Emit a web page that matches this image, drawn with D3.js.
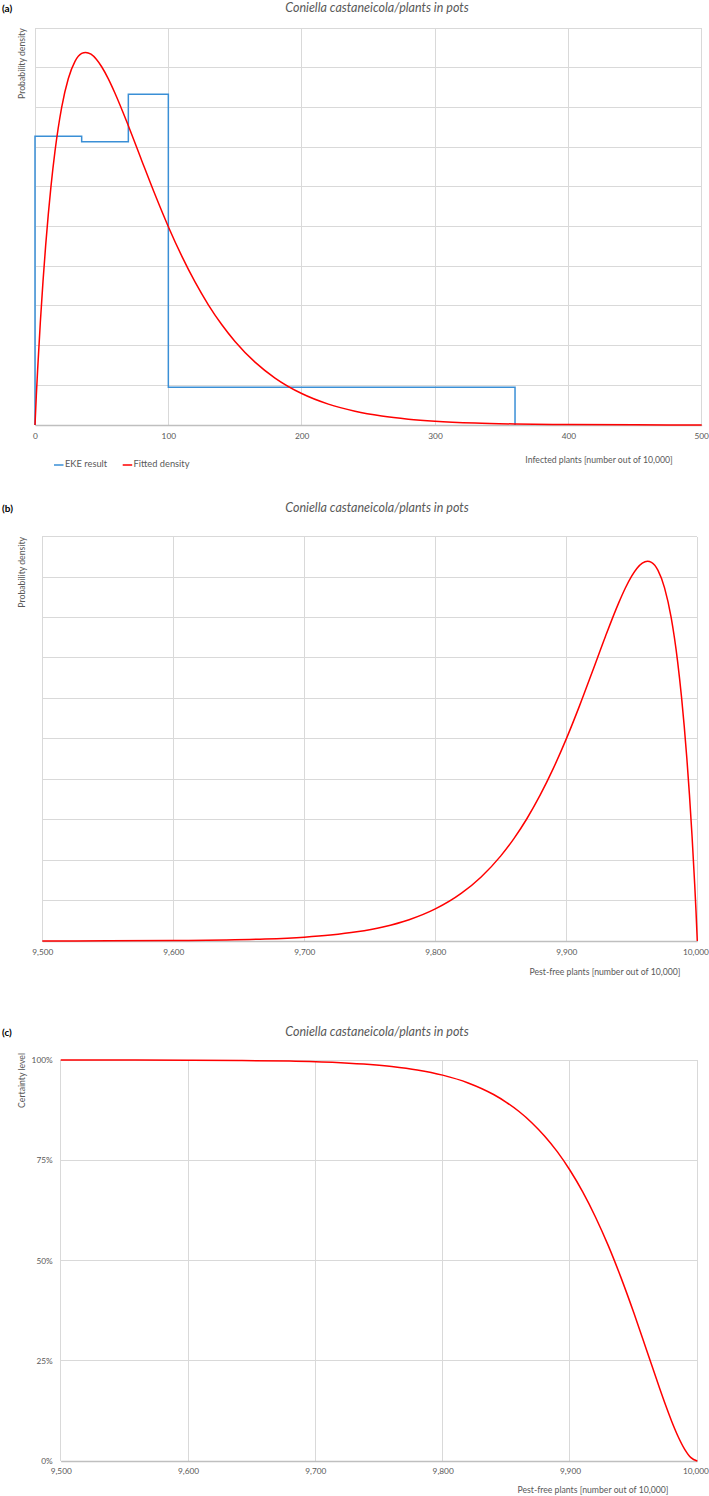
<!DOCTYPE html>
<html>
<head>
<meta charset="utf-8">
<script src="https://cdn.jsdelivr.net/npm/d3@7"></script>
<style>
  html, body { margin: 0; padding: 0; background: #fff; }
  svg { display: block; }
  text { font-family: Lato, "Open Sans", sans-serif; }
</style>
</head>
<body>
<svg id="chart" width="709" height="1496"></svg>
<script>
// ---------------- DATA ----------------
const chartTitle = "Coniella castaneicola/plants in pots";

// Panel (a): infected plants
const infectedTicks = [0, 100, 200, 300, 400, 500];
const infectedBinEdges = [0, 35, 70, 100, 360];
const infectedBinDensity = [0.00728, 0.00714, 0.00834, 0.00095];
const fittedX = [0, 1, 2, 4, 6, 8, 10, 12, 15, 20, 25, 30, 35, 38, 42, 46, 50, 55, 60, 70, 80, 90, 100, 110, 120, 130, 140, 150, 165, 180, 200, 220, 240, 260, 280, 300, 330, 360, 400, 450, 500];
const fittedDensity = [0, 0.000748, 0.001409, 0.002589, 0.003621, 0.004527, 0.005322, 0.006020, 0.006904, 0.008008, 0.008734, 0.009167, 0.009366, 0.009393, 0.009347, 0.009222, 0.009031, 0.008725, 0.008363, 0.007544, 0.006670, 0.005809, 0.004999, 0.004263, 0.003606, 0.003030, 0.002532, 0.002106, 0.001584, 0.001183, 0.000793, 0.000526, 0.000347, 0.000227, 0.000148, 0.0000957, 0.0000494, 0.0000254, 0.0000103, 0.0000033, 0.00000105];

// Panel (b): pest-free plants density
const pestFreeTicks = [9500, 9600, 9700, 9800, 9900, 10000];
const pestFreeX = [9500, 9550, 9600, 9640, 9670, 9700, 9720, 9740, 9760, 9780, 9800, 9820, 9835, 9850, 9860, 9870, 9880, 9890, 9900, 9910, 9920, 9930, 9940, 9945, 9950, 9954, 9958, 9962, 9965, 9970, 9975, 9980, 9985, 9988, 9990, 9992, 9994, 9996, 9998, 9999, 10000];
const pestFreeDensity = [0.00000105, 0.0000033, 0.0000103, 0.0000254, 0.0000494, 0.0000957, 0.000148, 0.000227, 0.000347, 0.000526, 0.000793, 0.001183, 0.001584, 0.002106, 0.002532, 0.003030, 0.003606, 0.004263, 0.004999, 0.005809, 0.006670, 0.007544, 0.008363, 0.008725, 0.009031, 0.009222, 0.009347, 0.009393, 0.009366, 0.009167, 0.008734, 0.008008, 0.006904, 0.006020, 0.005322, 0.004527, 0.003621, 0.002589, 0.001409, 0.000748, 0];

// Panel (c): certainty level
const certaintyTicks = [0, 0.25, 0.5, 0.75, 1];
const certaintyTickLabels = ["0%", "25%", "50%", "75%", "100%"];
const certaintyX = [9500, 9550, 9600, 9640, 9680, 9720, 9760, 9780, 9800, 9820, 9840, 9850, 9860, 9870, 9880, 9890, 9900, 9910, 9920, 9930, 9940, 9950, 9960, 9970, 9975, 9980, 9985, 9990, 9995, 10000];
const certaintyLevel = [1.0, 0.9999, 0.9996, 0.9989, 0.9972, 0.9933, 0.9839, 0.9753, 0.9623, 0.9428, 0.9139, 0.8946, 0.8715, 0.8437, 0.8105, 0.7714, 0.7250, 0.6711, 0.6086, 0.5377, 0.4579, 0.3708, 0.2783, 0.1849, 0.1401, 0.0980, 0.0606, 0.0298, 0.0084, 0];

const legendLabels = ["EKE result", "Fitted density"];

// ---------------- STYLE ----------------
const GRID = "#d9d9d9", AXIS = "#bfbfbf", TXT = "#595959";
const RED = "#ff0000", BLUE = "#3a8fd6";

const svg = d3.select("#chart");
svg.append("rect").attr("width", 709).attr("height", 1496).attr("fill", "#fff");

function drawPanel(o) {
  const g = svg.append("g");
  const x = d3.scaleLinear().domain(o.xDomain).range([o.left, o.right]);
  const y = d3.scaleLinear().domain(o.yDomain).range([o.bottom, o.top]);

  g.append("g").selectAll("line").data(o.yGrid).join("line")
    .attr("x1", o.left).attr("x2", o.right)
    .attr("y1", d => y(d)).attr("y2", d => y(d))
    .attr("stroke", GRID).attr("stroke-width", 1).attr("shape-rendering", "crispEdges");
  g.append("g").selectAll("line").data(o.xTicks).join("line")
    .attr("x1", d => x(d)).attr("x2", d => x(d))
    .attr("y1", o.top).attr("y2", o.bottom)
    .attr("stroke", GRID).attr("stroke-width", 1).attr("shape-rendering", "crispEdges");

  const ax = g.append("g").attr("transform", `translate(0,${o.bottom})`)
    .call(d3.axisBottom(x).tickValues(o.xTicks).tickSize(0).tickSizeOuter(0)
      .tickPadding(o.tickPad).tickFormat(o.xFormat));
  ax.select(".domain").attr("stroke", AXIS).attr("stroke-width", 1.3);
  ax.selectAll("text").attr("fill", TXT).attr("font-size", 8.3);
  // keep the right-most tick label inside the picture
  const lastTick = ax.selectAll(".tick").filter((d, i, n) => i === n.length - 1).select("text");
  const bb = lastTick.node().getBBox();
  const overflow = (x(o.xTicks[o.xTicks.length - 1]) + bb.x + bb.width) - 708.5;
  if (overflow > 0) lastTick.attr("x", -overflow);

  if (o.yTickLabels) {
    const ay = g.append("g").attr("transform", `translate(${o.left},0)`)
      .call(d3.axisLeft(y).tickValues(o.yTicksShown).tickSize(0).tickPadding(8)
        .tickFormat((d, i) => o.yTickLabels[i]));
    ay.select(".domain").remove();
    ay.selectAll("text").attr("fill", TXT).attr("font-size", 8.3);
  }

  g.append("text").attr("x", 2).attr("y", o.labelY).attr("font-size", 10)
    .attr("font-weight", "bold").attr("fill", "#000").attr("dominant-baseline", "middle")
    .text(o.panelLabel);
  g.append("text").attr("x", 377).attr("y", o.labelY).attr("font-size", 12.5)
    .attr("font-style", "italic").attr("fill", TXT).attr("text-anchor", "middle")
    .attr("dominant-baseline", "middle").text(chartTitle);
  g.append("text").attr("transform", `translate(22.7,${o.yTitleTop}) rotate(-90)`)
    .attr("text-anchor", "end").attr("dominant-baseline", "middle")
    .attr("font-size", 8.7).attr("fill", TXT).text(o.yTitle);
  g.append("text").attr("x", o.xTitleX).attr("y", o.xTitleY).attr("text-anchor", "middle")
    .attr("dominant-baseline", "middle").attr("font-size", 8.7).attr("fill", TXT).text(o.xTitle);

  return {g, x, y};
}

// ---------- Panel (a) ----------
const pa = drawPanel({
  xDomain: [0, 500], yDomain: [0, 0.01],
  left: 35, right: 701.7, top: 28.3, bottom: 425,
  xTicks: infectedTicks, yGrid: d3.range(0, 11).map(i => i * 0.001),
  xFormat: d3.format("d"), tickPad: 8,
  panelLabel: "(a)", labelY: 9, yTitle: "Probability density", yTitleTop: 28.3,
  xTitle: "Infected plants [number out of 10,000]", xTitleX: 599, xTitleY: 461
});
{
  const pts = [[infectedBinEdges[0], 0]];
  infectedBinDensity.forEach((d, i) => {
    pts.push([infectedBinEdges[i], d]);
    pts.push([infectedBinEdges[i + 1], d]);
  });
  pts.push([infectedBinEdges[infectedBinEdges.length - 1], 0]);
  pa.g.append("path").datum(pts)
    .attr("d", d3.line().x(d => pa.x(d[0])).y(d => pa.y(d[1])))
    .attr("fill", "none").attr("stroke", BLUE).attr("stroke-width", 1.5);
  pa.g.append("path").datum(fittedX.map((v, i) => [v, fittedDensity[i]]))
    .attr("d", d3.line().curve(d3.curveMonotoneX).x(d => pa.x(d[0])).y(d => pa.y(d[1])))
    .attr("fill", "none").attr("stroke", RED).attr("stroke-width", 1.5);

  const lg = pa.g.append("g");
  const legendPos = [[54, 65], [122.7, 133.5]];
  const legendCol = [BLUE, RED];
  legendLabels.forEach((t, i) => {
    lg.append("line").attr("x1", legendPos[i][0]).attr("x2", legendPos[i][0] + 9.5)
      .attr("y1", 465).attr("y2", 465).attr("stroke", legendCol[i]).attr("stroke-width", 1.5);
    lg.append("text").attr("x", legendPos[i][1]).attr("y", 465).attr("dominant-baseline", "middle")
      .attr("font-size", 9.3).attr("fill", TXT).text(t);
  });
}

// ---------- Panel (b) ----------
const pb = drawPanel({
  xDomain: [9500, 10000], yDomain: [0, 0.01],
  left: 42.3, right: 697.3, top: 536.7, bottom: 941,
  xTicks: pestFreeTicks, yGrid: d3.range(0, 11).map(i => i * 0.001),
  xFormat: d3.format(","), tickPad: 8,
  panelLabel: "(b)", labelY: 509, yTitle: "Probability density", yTitleTop: 537,
  xTitle: "Pest-free plants [number out of 10,000]", xTitleX: 605, xTitleY: 972.5
});
pb.g.append("path").datum(pestFreeX.map((v, i) => [v, pestFreeDensity[i]]))
  .attr("d", d3.line().curve(d3.curveMonotoneX).x(d => pb.x(d[0])).y(d => pb.y(d[1])))
  .attr("fill", "none").attr("stroke", RED).attr("stroke-width", 1.5);

// ---------- Panel (c) ----------
const pc = drawPanel({
  xDomain: [9500, 10000], yDomain: [0, 1],
  left: 60.7, right: 697.3, top: 1060, bottom: 1461,
  xTicks: pestFreeTicks, yGrid: certaintyTicks,
  yTicksShown: certaintyTicks, yTickLabels: certaintyTickLabels,
  xFormat: d3.format(","), tickPad: 7.5,
  panelLabel: "(c)", labelY: 1033, yTitle: "Certainty level", yTitleTop: 1053,
  xTitle: "Pest-free plants [number out of 10,000]", xTitleX: 593, xTitleY: 1490.5
});
pc.g.append("path").datum(certaintyX.map((v, i) => [v, certaintyLevel[i]]))
  .attr("d", d3.line().curve(d3.curveMonotoneX).x(d => pc.x(d[0])).y(d => pc.y(d[1])))
  .attr("fill", "none").attr("stroke", RED).attr("stroke-width", 1.5);
</script>
</body>
</html>
